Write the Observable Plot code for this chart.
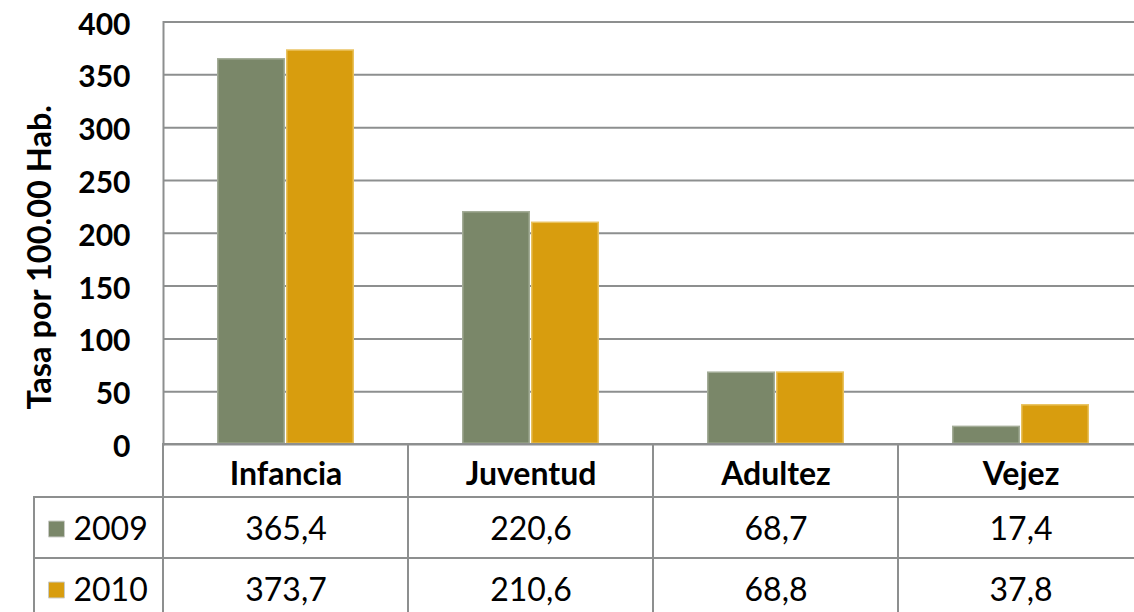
<!DOCTYPE html>
<html><head><meta charset="utf-8">
<script src="https://cdn.jsdelivr.net/npm/d3@7"></script>
<script src="https://cdn.jsdelivr.net/npm/@observablehq/plot@0.6"></script>
<style>
html,body{margin:0;padding:0;overflow:hidden;background:#fff;}
#wrap{position:relative;width:1134px;height:612px;overflow:hidden;background:#fff;}
#chart{position:absolute;left:0;top:0;width:1143px;}
#table{position:absolute;left:0;top:436px;width:1143px;}
</style></head>
<body><div id="wrap"><div id="chart"></div><div id="table"></div></div>
<script>
const categories = ["Infancia", "Juventud", "Adultez", "Vejez"];
const years = ["2009", "2010"];
const values2009 = [365.4, 220.6, 68.7, 17.4];
const values2010 = [373.7, 210.6, 68.8, 37.8];
const yTicks = [0, 50, 100, 150, 200, 250, 300, 350, 400];
const yLabel = "Tasa por 100.00 Hab.";
const fillColors = ["#7a8769", "#d89d0e"];
const edgeColors = ["#a3ac97", "#e9c25e"];
const lineColor = "#8d8f8f";
const font = "Lato, 'Open Sans', sans-serif";

const rows = categories.flatMap((c, i) => [
  {cat: c, year: years[0], value: values2009[i]},
  {cat: c, year: years[1], value: values2010[i]}
]);
const fmt = v => v.toFixed(1).replace(".", ",");

const chart = Plot.plot({
  width: 1143, height: 446,
  marginTop: 21.5, marginBottom: 2, marginLeft: 163, marginRight: 0,
  style: {background: "transparent", maxWidth: "none", fontFamily: font, color: "#000", overflow: "visible"},
  fx: {domain: categories, padding: 0, axis: null},
  x: {domain: years, paddingInner: 0.01, paddingOuter: 0.78, axis: null},
  y: {domain: [0, 400], axis: null},
  marks: [
    Plot.ruleY(yTicks, {stroke: lineColor, strokeWidth: 2}),
    Plot.frame({anchor: "left", stroke: lineColor, strokeWidth: 2, facet: "super"}),
    ...years.map((yr, k) => Plot.barY(rows.filter(d => d.year === yr), {
      fx: "cat", x: "year", y: "value",
      fill: fillColors[k], stroke: edgeColors[k], strokeWidth: 1.5, inset: 0.75
    })),
    Plot.axisY(yTicks, {tickSize: 0, tickPadding: 33, fontSize: 30, fontWeight: "bold", label: null, dy: 3, fill: "#000"}),
    Plot.text([yLabel], {frameAnchor: "left", textAnchor: "middle", rotate: -90, dx: -123, dy: 24, fontSize: 32.5, fontWeight: "bold", facet: "super", fill: "#000"})
  ]
});
document.getElementById("chart").append(chart);

const table = Plot.plot({
  width: 1143, height: 183,
  marginTop: 0, marginBottom: 0, marginLeft: 163, marginRight: 0,
  style: {background: "transparent", maxWidth: "none", fontFamily: font, color: "#000", overflow: "visible"},
  x: {domain: categories, padding: 0, axis: null},
  y: {domain: ["header", ...years], padding: 0, axis: null},
  color: {domain: years, range: fillColors},
  marks: [
    Plot.cell(categories, {x: d => d, y: () => "header", fill: "none", stroke: lineColor, strokeWidth: 2, insetTop: 8}),
    Plot.cell(rows, {x: "cat", y: "year", fill: "none", stroke: lineColor, strokeWidth: 2}),
    Plot.cell(years, {x: () => categories[0], y: d => d, fill: "none", stroke: lineColor, strokeWidth: 2, insetRight: 116, dx: -129}),
    Plot.text(categories, {x: d => d, y: () => "header", dy: 7.5, fontSize: 32, fontWeight: "bold", fill: "#000"}),
    Plot.text(rows, {x: "cat", y: "year", text: d => fmt(d.value), dy: 2, fontSize: 32, fill: "#000"}),
    Plot.dot(years, {x: () => categories[0], y: d => d, symbol: "square", r: 9, fill: d => d, stroke: "#c9cbc6", strokeWidth: 1, dx: -229.5, dy: 1}),
    Plot.text(years, {x: () => categories[0], y: d => d, text: d => d, textAnchor: "start", dx: -212.5, dy: 2, fontSize: 32, fill: "#000"})
  ]
});
document.getElementById("table").append(table);
</script>
</body></html>
